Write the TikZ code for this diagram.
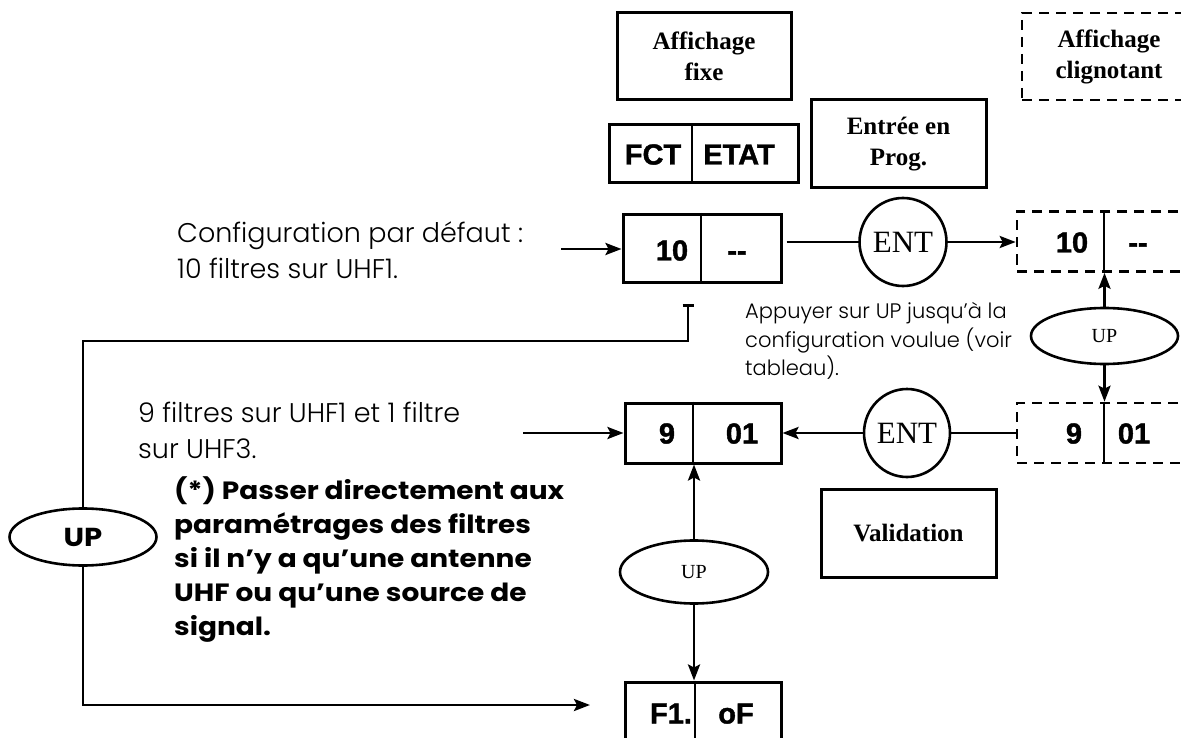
\documentclass[tikz,border=0pt]{standalone}
\usepackage{fontspec}
\setmainfont{Liberation Serif}
\newfontfamily\lcdfont{Liberation Sans}[FakeBold=1.4]
\newfontfamily\lightfont{Poppins Light}
\newfontfamily\heavyfont{Poppins}[FakeStretch=1.12]
\usetikzlibrary{shapes.geometric,arrows.meta}
\begin{document}
\begin{tikzpicture}[x=1pt,y=-1pt,
  box/.style={draw, rectangle, line width=3pt, inner sep=0pt},
  dbox/.style={box, line width=2.6pt, dash pattern=on 10pt off 7pt},
  lbl/.style={font=\fontsize{25}{31}\selectfont\bfseries, align=center},
  lcd/.style={font=\lcdfont\bfseries\fontsize{29}{29}\selectfont, inner sep=0pt, text height=21pt, text depth=0pt},
  oval/.style={draw, ellipse, line width=2.6pt, inner sep=0pt},
  conn/.style={line width=2.8pt},
  arr/.style={conn, -{Stealth[length=16pt,width=12pt,inset=3pt]}},
  divider/.style={line width=1.5pt},
  light/.style={font=\lightfont\fontsize{27}{36}\selectfont, align=left, inner sep=0pt},
  small/.style={font=\lightfont\fontsize{21}{28.5}\selectfont, align=left, inner sep=0pt},
  heavy/.style={font=\heavyfont\bfseries\fontsize{25}{34}\selectfont, align=left, inner sep=0pt}
]
\useasboundingbox (0,0) rectangle (1181,738);
\fill[white] (0,0) rectangle (1181,738);

% legend boxes
\node[box, lbl, minimum width=174, minimum height=87] (aff) at (704,56.5) {Affichage\\fixe};
\node[dbox, lbl, minimum width=174, minimum height=87] (clig) at (1109,56.5) {Affichage\\clignotant};
\node[box, minimum width=189, minimum height=58] (fct) at (703.5,154) {};
\draw[divider] (fct.north -| 692,0) -- (fct.south -| 692,0);
\node[lcd] (fcttxt) at (653,154) {FCT};
\node[lcd] (etattxt) at (739,154) {ETAT};
\node[box, lbl, minimum width=175, minimum height=88] (entree) at (898.5,144) {Entrée en\\Prog.};

% first row
\node[box, minimum width=158, minimum height=68] (b10) at (702,248.5) {};
\draw[divider] (b10.north -| 701,0) -- (b10.south -| 701,0);
\node[lcd] (b10a) at (672,250) {10};
\node[lcd] (b10b) at (737,250) {-{}-};
\node[oval, minimum width=87, minimum height=88, font=\fontsize{31}{31}\selectfont] (ent1) at (903,242) {ENT};
\node[dbox, minimum width=178, minimum height=60] (d10) at (1106,241.5) {};
\draw[divider] (d10.north -| 1104,0) -- (d10.south -| 1104,0);
\node[lcd] (d10a) at (1072,242) {10};
\node[lcd] (d10b) at (1138,242) {-{}-};

\node[oval, minimum width=147, minimum height=56, font=\fontsize{20}{20}\selectfont] (up1) at (1104.5,336) {UP};

% second row
\node[box, minimum width=156, minimum height=60] (b9) at (703,433) {};
\draw[divider] (b9.north -| 693,0) -- (b9.south -| 693,0);
\node[lcd] (b9a) at (667,433) {9};
\node[lcd] (b9b) at (742,433) {01};
\node[oval, minimum width=86, minimum height=88, font=\fontsize{31}{31}\selectfont] (ent2) at (907,433) {ENT};
\node[dbox, minimum width=178, minimum height=60] (d9) at (1106,433) {};
\draw[divider] (d9.north -| 1104,0) -- (d9.south -| 1104,0);
\node[lcd] (d9a) at (1074,433) {9};
\node[lcd] (d9b) at (1134,433) {01};
\node[box, lbl, minimum width=175, minimum height=88] (val) at (908.5,533) {Validation};

\node[oval, minimum width=148, minimum height=63, font=\fontsize{20}{20}\selectfont] (up2) at (694,572) {UP};

% third row
\node[box, minimum width=156, minimum height=60] (f1) at (703,712) {};
\draw[divider] (f1.north -| 695,0) -- (f1.south -| 695,0);
\node[lcd] (f1a) at (671,713) {F1.};
\node[lcd] (f1b) at (736,713) {oF};

\node[oval, minimum width=147, minimum height=57, font=\heavyfont\bfseries\fontsize{26}{26}\selectfont] (up3) at (83,537) {UP};

% texts
\node[light, anchor=west] (conf) at (177,250) {Configuration par défaut :\\10 filtres sur UHF1.};
\node[light, anchor=west] (conf2) at (138,430) {9 filtres sur UHF1 et 1 filtre\\sur UHF3.};
\node[heavy, anchor=west] (note) at (174,560) {(*) Passer directement aux\\paramétrages des filtres\\si il n’y a qu’une antenne\\UHF ou qu’une source de\\signal.};
\node[small, anchor=west] (hint) at (745,341) {Appuyer sur UP jusqu’à la\\configuration voulue (voir\\tableau).};

% coordinates
\coordinate (c1) at (561,249);
\coordinate (c2) at (523,433);
\coordinate (tick) at (688,304);
\coordinate (knee) at (83,341);
\coordinate (ret) at (590,705);

% connectors
\draw[arr] (c1) -- (c1 -| b10.west);
\draw[conn, shorten <=4pt] (ent1.west -| b10.east) -- (ent1.west);
\draw[arr] (ent1.east) -- (ent1.east -| d10.west);
\draw[arr] (up1.north) -- (up1.north |- d10.south);
\draw[arr] (up1.south) -- (up1.south |- d9.north);
\draw[conn] (d9.west) -- (ent2.east);
\draw[arr] (ent2.west) -- (ent2.west -| b9.east);
\draw[arr] (c2) -- (c2 -| b9.west);
\draw[arr] (up2.north) -- (up2.north |- b9.south);
\draw[arr] (up2.south) -- (up2.south |- f1.north);
\draw[conn, {Bar[width=11pt]}-] (tick) |- (knee) -- (up3.north);
\draw[arr] (up3.south) |- (ret);
\end{tikzpicture}
\end{document}
